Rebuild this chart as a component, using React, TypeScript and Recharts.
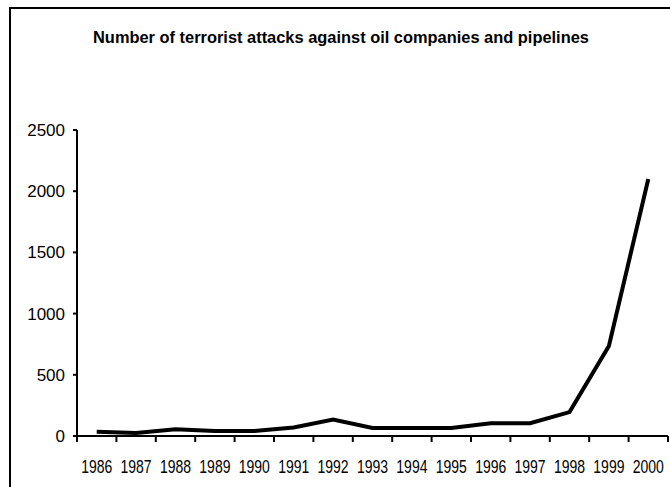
import React from "react"
import { LineChart, Line, XAxis, YAxis } from "recharts"

const years = ["1986", "1987", "1988", "1989", "1990", "1991", "1992", "1993", "1994", "1995", "1996", "1997", "1998", "1999", "2000"]
const attacks = [35, 25, 55, 40, 40, 70, 135, 65, 65, 65, 105, 105, 195, 735, 2100]
const yTicks = [0, 500, 1000, 1500, 2000, 2500]

const font = "'Liberation Sans', Arial, sans-serif"

// each year sits in the middle of its own slot, ticks mark the slot edges
const data = years.map((year, i) => ({ pos: i + 0.5, year, value: attacks[i] }))
const edgeTicks = years.map((_, i) => i).concat(years.length)
const centerTicks = years.map((_, i) => i + 0.5)

// no narrow font installed, so squeeze the year labels by hand
function YearTick(props: any) {
  const { x, y, payload } = props
  return (
    <text
      x={x}
      y={y}
      dy="0.71em"
      textAnchor="middle"
      fill="#000"
      fontSize={17.5}
      fontFamily={font}
      transform={`translate(${x},0) scale(0.8,1) translate(${-x},0)`}
    >
      {years[Math.floor(payload.value)]}
    </text>
  )
}

export default function App() {
  return (
    <div style={{ position: "absolute", left: 0, top: 0, width: 670, height: 487, overflow: "hidden", background: "#fff" }}>
      <div
        style={{
          position: "absolute",
          left: 9,
          top: 7,
          width: 700,
          height: 600,
          border: "2px solid #000",
        }}
      />
      <div
        style={{
          position: "absolute",
          left: 0,
          top: 28,
          width: 682,
          textAlign: "center",
          fontFamily: font,
          fontWeight: "bold",
          fontSize: 17,
          color: "#000",
          transform: "scaleX(0.965)",
          transformOrigin: "341px 0",
        }}
      >
        Number of terrorist attacks against oil companies and pipelines
      </div>
      <div style={{ position: "absolute", left: 0, top: 0 }}>
        <LineChart width={670} height={487} data={data} margin={{ top: 130, right: 2, left: 0, bottom: 21 }}>
          <XAxis
            xAxisId="edges"
            dataKey="pos"
            type="number"
            domain={[0, years.length]}
            ticks={edgeTicks}
            interval={0}
            tickFormatter={() => ""}
            height={6}
            tickSize={6}
            axisLine={{ stroke: "#000", strokeWidth: 2 }}
            tickLine={{ stroke: "#000", strokeWidth: 2 }}
          />
          <XAxis
            xAxisId="labels"
            dataKey="pos"
            type="number"
            domain={[0, years.length]}
            ticks={centerTicks}
            interval={0}
            height={24}
            axisLine={false}
            tickLine={false}
            tickSize={0}
            tickMargin={19}
            tick={<YearTick />}
          />
          <YAxis
            domain={[0, 2500]}
            ticks={yTicks}
            width={77}
            tickSize={4}
            tickMargin={8}
            axisLine={{ stroke: "#000", strokeWidth: 2 }}
            tickLine={{ stroke: "#000", strokeWidth: 2 }}
            tick={{ fill: "#000", fontSize: 17, fontFamily: font }}
          />
          <Line
            xAxisId="edges"
            type="linear"
            dataKey="value"
            stroke="#000"
            strokeWidth={4}
            dot={false}
            activeDot={false}
            isAnimationActive={false}
          />
        </LineChart>
      </div>
    </div>
  )
}
